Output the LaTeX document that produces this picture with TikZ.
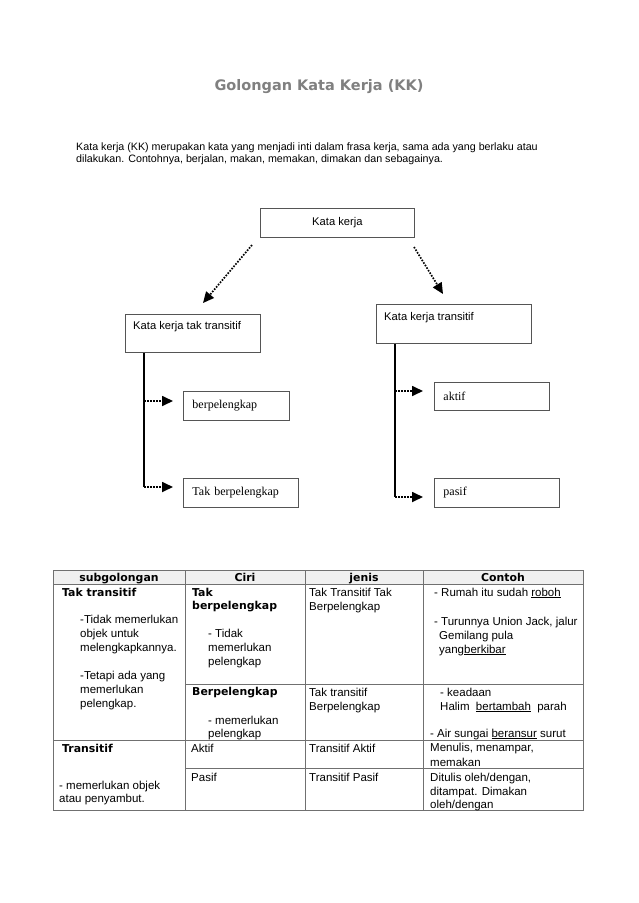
\documentclass[tikz,border=0pt]{standalone}
\usepackage{fontspec}
\setmainfont{Liberation Sans}
\newfontfamily\verd{DejaVu Sans}
\newfontfamily\tms{Liberation Serif}
\usetikzlibrary{arrows.meta}
\definecolor{boxline}{HTML}{555555}
\definecolor{gridline}{HTML}{707070}
\definecolor{hdrfill}{HTML}{F0F0F0}
\definecolor{titlegray}{HTML}{808080}
\begin{document}
\begin{tikzpicture}[x=1pt,y=-1pt,
  box/.style={draw=boxline, line width=0.9pt, rectangle, inner sep=0pt, anchor=north west},
  sbox/.style={box, font=\fontsize{11.2}{13}\selectfont},
  tbox/.style={box, font=\tms\fontsize{12}{14}\selectfont, align=left, inner xsep=9pt},
  lbl/.style={anchor=base west, inner sep=0pt, font=\fontsize{11.2}{13}\selectfont},
  tx/.style={anchor=base west, inner sep=0pt, font=\fontsize{11.5}{13}\selectfont},
  bx/.style={anchor=base west, inner sep=0pt, font=\verd\bfseries\fontsize{10.9}{13}\selectfont},
  hd/.style={anchor=base, inner sep=0pt, font=\verd\bfseries\fontsize{10.9}{13}\selectfont},
  dotarrow/.style={line width=1.7pt, dash pattern=on 1.6pt off 1.4pt, -{Triangle[length=11pt,width=10pt]}},
  trunk/.style={line width=2pt, black},
  grid/.style={draw=gridline, line width=0.8pt}
]
\useasboundingbox (0,0) rectangle (638,903);
\fill[white] (0,0) rectangle (638,903);

% title and intro
\node[anchor=base, inner sep=0pt, font=\verd\bfseries\fontsize{14.5}{16}\selectfont, text=titlegray] (title) at (319,90) {Golongan Kata Kerja (KK)};
\node[anchor=base west, inner sep=0pt, font=\fontsize{10.7}{12}\selectfont] (p1) at (76,150) {Kata kerja (KK) merupakan kata yang menjadi inti dalam frasa kerja, sama ada yang berlaku atau};
\node[anchor=base west, inner sep=0pt, font=\fontsize{10.7}{12}\selectfont] (p2) at (76,162) {dilakukan. Contohnya, berjalan, makan, memakan, dimakan dan sebagainya.};

% diagram boxes
\node[sbox, minimum width=154pt, minimum height=29pt] (kk) at (260,208) {Kata kerja};
\node[box, minimum width=135pt, minimum height=38pt] (ktt) at (125,314) {};
\node[lbl] (kttl) at (133,329) {Kata kerja tak transitif};
\node[box, minimum width=155pt, minimum height=39pt] (kt) at (376,304) {};
\node[lbl] (ktl) at (384,320) {Kata kerja transitif};

\node[tbox, minimum width=106pt, minimum height=29pt, text width=88pt] (berp) at (183,391) {berpelengkap};
\node[tbox, minimum width=115pt, minimum height=29pt, text width=97pt] (tberp) at (183,478) {Tak berpelengkap};
\node[tbox, minimum width=115pt, minimum height=28pt, text width=97pt] (akt) at (434,382) {aktif};
\node[tbox, minimum width=125pt, minimum height=29pt, text width=107pt] (pas) at (434,478) {pasif};

% dotted arrows from Kata kerja
\coordinate (a1s) at (252,245);
\coordinate (a1e) at (203,303);
\coordinate (a2s) at (414,247);
\coordinate (a2e) at (443,294);
\draw[dotarrow] (a1s) -- (a1e);
\draw[dotarrow] (a2s) -- (a2e);

% trunks
\coordinate (lv1) at (144,401);
\coordinate (lv2) at (144,487);
\coordinate (rv1) at (395,391);
\coordinate (rv2) at (395,497);
\draw[trunk] (ktt.south -| lv1) -- (lv2);
\draw[trunk] (kt.south -| rv1) -- (rv2);
\draw[dotarrow, shorten >=10pt] (lv1) -- (berp.west |- lv1);
\draw[dotarrow, shorten >=10pt] (lv2) -- (tberp.west |- lv2);
\draw[dotarrow, shorten >=11pt] (rv1) -- (akt.west |- rv1);
\draw[dotarrow, shorten >=11pt] (rv2) -- (pas.west |- rv2);

% table
\fill[hdrfill] (53,570) rectangle (583,584);
\draw[grid] (53,570) rectangle (583,810);
\draw[grid] (53,584) -- (583,584);
\draw[grid] (185,684) -- (583,684);
\draw[grid] (53,740) -- (583,740);
\draw[grid] (185,768) -- (583,768);
\draw[grid] (185,570) -- (185,810);
\draw[grid] (305,570) -- (305,810);
\draw[grid] (423,570) -- (423,810);

\node[hd] at (119,581) {subgolongan};
\node[hd] at (245,581) {Ciri};
\node[hd] at (364,581) {jenis};
\node[hd] at (503,581) {Contoh};

\node[bx] at (62,596) {Tak transitif};
\node[tx] at (80,623) {-Tidak memerlukan};
\node[tx] at (80,637) {objek untuk};
\node[tx] at (80,651) {melengkapkannya.};
\node[tx] at (80,679) {-Tetapi ada yang};
\node[tx] at (80,693) {memerlukan};
\node[tx] at (80,707) {pelengkap.};

\node[bx] at (192,596) {Tak};
\node[bx] at (192,609) {berpelengkap};
\node[tx] at (208,637) {- Tidak};
\node[tx] at (208,651) {memerlukan};
\node[tx] at (208,665) {pelengkap};
\node[bx] at (192,695) {Berpelengkap};
\node[tx] at (208,724) {- memerlukan};
\node[tx] at (208,737) {pelengkap};

\node[tx] at (309,596) {Tak Transitif Tak};
\node[tx] at (309,610) {Berpelengkap};
\node[tx] at (309,696) {Tak transitif};
\node[tx] at (309,710) {Berpelengkap};

\node[tx] at (434,596) {- Rumah itu sudah \underline{roboh}};
\node[tx] at (434,625) {- Turunnya Union Jack, jalur};
\node[tx] at (439,639) {Gemilang pula};
\node[tx] at (439,653) {yang\underline{berkibar}};
\node[tx] at (440,696) {- keadaan};
\node[tx] at (440,710) {Halim\ \ \underline{bertambah}\ \ parah};
\node[tx] at (430,737) {- Air sungai \underline{beransur} surut};

\node[bx] at (62,752) {Transitif};
\node[tx] at (59,789) {- memerlukan objek};
\node[tx] at (59,802) {atau penyambut.};
\node[tx] at (191,752) {Aktif};
\node[tx] at (191,781) {Pasif};
\node[tx] at (309,752) {Transitif Aktif};
\node[tx] at (309,781) {Transitif Pasif};
\node[tx] at (430,751) {Menulis, menampar,};
\node[tx] at (430,766) {memakan};
\node[tx] at (430,781) {Ditulis oleh/dengan,};
\node[tx] at (430,795) {ditampat. Dimakan};
\node[tx] at (430,808) {oleh/dengan};
\end{tikzpicture}
\end{document}
